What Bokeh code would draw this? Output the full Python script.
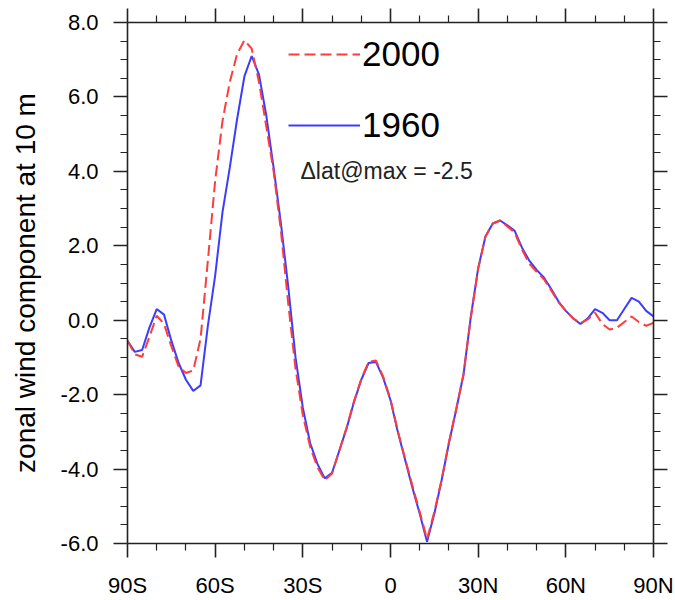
from bokeh.plotting import figure
from bokeh.models import FixedTicker, Legend, LegendItem, Label, LinearAxis, Range1d
from bokeh.embed import file_html
from bokeh.resources import INLINE

# latitude (deg, negative = south)
lat = [-90, -87.5, -85, -82.5, -80, -77.5, -75, -72.5, -70, -67.5, -65, -62.5,
       -60, -57.5, -55, -52.5, -50, -47.5, -45, -42.5, -40, -37.5, -35, -32.5,
       -30, -27.5, -25, -22.5, -20, -17.5, -15, -12.5, -10, -7.5, -5, -2.5,
       0, 2.5, 5, 7.5, 10, 12.5, 15, 17.5, 20, 22.5, 25, 27.5,
       30, 32.5, 35, 37.5, 40, 42.5, 45, 47.5, 50, 52.5, 55, 57.5,
       60, 62.5, 65, 67.5, 70, 72.5, 75, 77.5, 80, 82.5, 85, 87.5, 90]

u1960 = [-0.55, -0.85, -0.80, -0.20, 0.30, 0.15, -0.55, -1.15, -1.60, -1.90, -1.75, -0.15,
         1.20, 2.90, 4.10, 5.40, 6.55, 7.10, 6.60, 5.50, 4.10, 2.60, 0.90, -1.00,
         -2.35, -3.30, -3.86, -4.25, -4.10, -3.50, -2.90, -2.20, -1.60, -1.15, -1.12, -1.55,
         -2.15, -3.00, -3.75, -4.50, -5.20, -5.95, -5.20, -4.30, -3.30, -2.40, -1.45, 0.10,
         1.40, 2.25, 2.60, 2.68, 2.55, 2.40, 1.95, 1.60, 1.35, 1.15, 0.84, 0.50,
         0.25, 0.05, -0.10, 0.05, 0.30, 0.20, 0.00, 0.00, 0.30, 0.60, 0.50, 0.25, 0.10]

u2000 = [-0.55, -0.92, -0.98, -0.45, 0.12, -0.10, -0.70, -1.25, -1.42, -1.35, -0.50, 1.60,
         3.75, 5.35, 6.40, 7.15, 7.52, 7.30, 6.40, 5.20, 4.00, 2.40, 0.45, -1.30,
         -2.55, -3.40, -3.95, -4.30, -4.12, -3.50, -2.88, -2.18, -1.58, -1.12, -1.08, -1.52,
         -2.12, -2.98, -3.72, -4.45, -5.15, -5.88, -5.15, -4.28, -3.28, -2.38, -1.45, 0.08,
         1.38, 2.25, 2.60, 2.68, 2.52, 2.35, 1.90, 1.52, 1.30, 1.10, 0.80, 0.48,
         0.25, 0.05, -0.08, 0.02, 0.20, -0.10, -0.25, -0.20, -0.05, 0.10, -0.05, -0.15, -0.07]

x_ticks = [-90, -60, -30, 0, 30, 60, 90]
x_tick_labels = ["90S", "60S", "30S", "0", "30N", "60N", "90N"]
x_minor = [-80, -70, -50, -40, -20, -10, 10, 20, 40, 50, 70, 80]
y_ticks = [-6, -4, -2, 0, 2, 4, 6, 8]
y_tick_labels = ["-6.0", "-4.0", "-2.0", "0.0", "2.0", "4.0", "6.0", "8.0"]
y_minor = [-5.5, -5, -4.5, -3.5, -3, -2.5, -1.5, -1, -0.5, 0.5, 1, 1.5,
           2.5, 3, 3.5, 4.5, 5, 5.5, 6.5, 7, 7.5]

series_labels = ["2000", "1960"]
note = "\u0394lat@max = -2.5"
ylabel = "zonal wind component at 10 m"

FONT = "Liberation Sans"
AX = "#222222"

p = figure(width=675, height=600, output_backend="svg", toolbar_location=None,
           x_range=Range1d(-90, 90), y_range=Range1d(-6, 8),
           min_border_left=127, min_border_right=22, min_border_top=22,
           min_border_bottom=53, outline_line_color=None,
           background_fill_color="white", border_fill_color="white")
p.xgrid.visible = False
p.ygrid.visible = False

p.add_layout(LinearAxis(), "above")
p.add_layout(LinearAxis(), "right")


def style(ax, ticks, minors, labels, show):
    ax.ticker = FixedTicker(ticks=ticks, minor_ticks=minors)
    ax.major_tick_in = 0
    ax.major_tick_out = 14
    ax.minor_tick_in = 0
    ax.minor_tick_out = 7
    ax.axis_line_color = AX
    ax.axis_line_width = 1.6
    ax.major_tick_line_color = AX
    ax.major_tick_line_width = 1.6
    ax.minor_tick_line_color = AX
    ax.minor_tick_line_width = 1.2
    ax.major_label_text_font = FONT
    ax.major_label_text_color = "black"
    ax.major_label_text_font_size = "22px"
    if show:
        ax.major_label_overrides = {t: l for t, l in zip(ticks, labels)}
        ax.major_label_standoff = 15
    else:
        ax.major_label_overrides = {t: "" for t in ticks}
        ax.major_label_standoff = 0


style(p.below[0], x_ticks, x_minor, x_tick_labels, True)
style(p.above[0], x_ticks, x_minor, x_tick_labels, False)
style(p.left[0], y_ticks, y_minor, y_tick_labels, True)
style(p.right[0], y_ticks, y_minor, y_tick_labels, False)

yl = p.left[0]
yl.axis_label = ylabel
yl.axis_label_text_font = FONT
yl.axis_label_text_font_size = "28px"
yl.axis_label_text_font_style = "normal"
yl.axis_label_text_color = "black"
yl.axis_label_standoff = 17

r1960 = p.line(lat, u1960, line_color="#3c3cff", line_width=2)
r2000 = p.line(lat, u2000, line_color="#ff3c3c", line_width=2, line_dash="11 5")

legend = Legend(items=[LegendItem(label=series_labels[0], renderers=[r2000]),
                       LegendItem(label=series_labels[1], renderers=[r1960])],
                location=(161, 398), orientation="vertical",
                glyph_width=72, glyph_height=40, label_height=40,
                label_standoff=2, spacing=31, padding=0, margin=0,
                border_line_color=None, background_fill_alpha=0,
                label_text_font=FONT, label_text_font_size="35px",
                label_text_color="black")
p.add_layout(legend)

p.add_layout(Label(x=-30.8, y=4.0, text=note, text_font=FONT,
                   text_font_size="23px", text_baseline="middle",
                   text_color="#222222"))

open("out.html", "w").write(file_html(p, INLINE))
